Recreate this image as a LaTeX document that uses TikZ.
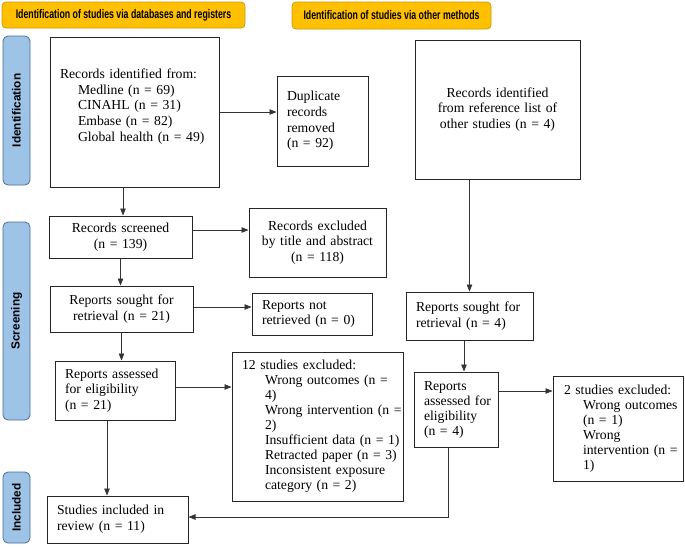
\documentclass[tikz,border=0pt]{standalone}
\usepackage{fontspec}
\setmainfont{Liberation Serif}
\newfontfamily\headfont[FakeStretch=0.7]{Liberation Sans}
\newfontfamily\phasefont{Liberation Sans}
\usetikzlibrary{arrows.meta}

\definecolor{hdrfill}{HTML}{FFC000}
\definecolor{hdrline}{HTML}{C99A12}
\definecolor{phasefill}{HTML}{9DC3E6}
\definecolor{phaseline}{HTML}{4F6F95}

\tikzset{
  hdr/.style={draw=hdrline, fill=hdrfill, line width=0.8pt, rounded corners=4pt,
    font=\headfont\bfseries\fontsize{12.5}{14}\selectfont, inner sep=0pt},
  phase/.style={draw=phaseline, fill=phasefill, line width=0.8pt, rounded corners=5pt,
    rotate=90, minimum height=27pt, inner sep=0pt,
    font=\phasefont\bfseries\fontsize{11.8}{13}\selectfont},
  box/.style={draw=black!85, line width=1pt, inner xsep=10pt, inner ysep=0pt,
    font=\fontsize{13.7}{15.7}\selectfont},
  tight/.style={font=\fontsize{13.7}{15}\selectfont},
  arr/.style={draw=black!80, line width=0.7pt, -{Triangle[length=7pt,width=5.5pt]}}
}

\begin{document}
\begin{tikzpicture}[x=1pt,y=-1pt]
    \useasboundingbox (0,0) rectangle (685,547);

    % headers
    \node[hdr, minimum width=243pt, minimum height=26pt] (hdrdb) at (123.5,15) {Identification of studies via databases and registers};
    \node[hdr, minimum width=199pt, minimum height=27pt] (hdrother) at (391.5,15.5) {Identification of studies via other methods};

    % phases
    \node[phase, minimum width=149pt] (phident) at (16.5,110.5) {Identification};
    \node[phase, minimum width=198pt] (phscreen) at (16.5,321) {Screening};
    \node[phase, minimum width=71pt] (phincl) at (16.5,507.5) {Included};

    % databases column
    \node[box, text width=149pt, minimum height=150pt, align=left] (ident) at (134.5,112)
      {\mbox{Records identified from:}\\
       \hspace*{18pt}\mbox{Medline (n = 69)}\\
       \hspace*{18pt}\mbox{CINAHL (n = 31)}\\
       \hspace*{18pt}\mbox{Embase (n = 82)}\\
       \hspace*{18pt}\mbox{Global health (n = 49)}\rule[-14pt]{0pt}{14pt}};
    \node[box, text width=71pt, minimum height=90pt, align=left] (dup) at (322.5,121)
      {Duplicate\\records\\removed\\(n = 92)};
    \node[box, text width=123pt, minimum height=42pt, align=center] (screened) at (120.5,237)
      {Records screened\\(n = 139)};
    \node[box, text width=117pt, minimum height=69pt, align=center] (excl) at (317.5,242.5)
      {Records excluded\\\mbox{by title and abstract}\\(n = 118)};
    \node[box, text width=123pt, minimum height=46pt, align=center] (sought) at (121.5,309)
      {Reports sought for\\retrieval (n = 21)};
    \node[box, text width=100pt, minimum height=42pt, align=left] (notret) at (312,314)
      {Reports not\\\mbox{retrieved (n = 0)}};
    \node[box, text width=100pt, minimum height=59pt, align=left] (assess) at (115,390.5)
      {\mbox{Reports assessed}\\for eligibility\\(n = 21)};
    \node[box, tight, text width=151pt, minimum height=149pt, align=left] (excltwelve) at (317.5,426.5)
      {\mbox{12 studies excluded:}\\
       \hspace*{23pt}\mbox{Wrong outcomes (n =}\\
       \hspace*{23pt}4)\\
       \hspace*{23pt}\mbox{Wrong intervention (n =}\\
       \hspace*{23pt}2)\\
       \hspace*{23pt}\mbox{Insufficient data (n = 1)}\\
       \hspace*{23pt}\mbox{Retracted paper (n = 3)}\\
       \hspace*{23pt}\mbox{Inconsistent exposure}\\
       \hspace*{23pt}\mbox{category (n = 2)}};
    \node[box, text width=121pt, minimum height=47pt, align=left] (incl) at (117.5,519.5)
      {\mbox{Studies included in}\\review (n = 11)};

    % other methods column
    \node[box, text width=145pt, minimum height=139pt, align=center] (other) at (497.5,109.5)
      {Records identified\\\mbox{from reference list of}\\\mbox{other studies (n = 4)}};
    \node[box, text width=107pt, minimum height=48pt, align=left] (soughtb) at (469.5,316)
      {\mbox{Reports sought for}\\\mbox{retrieval (n = 4)}};
    \node[box, tight, text width=64pt, minimum height=75pt, align=left] (assessb) at (456,409.5)
      {Reports\\\mbox{assessed for}\\eligibility\\(n = 4)};
    \node[box, tight, inner xsep=11pt, text width=108pt, minimum height=105pt, align=left] (excltwo) at (618,428.5)
      {\mbox{2 studies excluded:}\\
       \hspace*{19pt}\mbox{Wrong outcomes}\\
       \hspace*{19pt}(n = 1)\\
       \hspace*{19pt}Wrong\\
       \hspace*{19pt}\mbox{intervention (n =}\\
       \hspace*{19pt}1)};

    % arrows
    \draw[arr] (ident.east) -- (ident.east -| dup.west);
    \draw[arr] ([xshift=2.5pt]screened.north |- ident.south) -- ([xshift=2.5pt]screened.north);
    \draw[arr] ([yshift=7pt]screened.east) -- ([yshift=7pt]screened.east -| excl.west);
    \draw[arr] (screened.south) -- (screened.south |- sought.north);
    \draw[arr] ([yshift=2pt]sought.east) -- ([yshift=2pt]sought.east -| notret.west);
    \draw[arr] (sought.south) -- (sought.south |- assess.north);
    \draw[arr] ([yshift=3.5pt]assess.east) -- ([yshift=3.5pt]assess.east -| excltwelve.west);
    \draw[arr] ([xshift=-8pt]assess.south) -- ([xshift=-8pt]assess.south |- incl.north);

    \draw[arr] (soughtb.north |- other.south) -- (soughtb.north);
    \draw[arr] ([xshift=-5.5pt]soughtb.south) -- ([xshift=-5.5pt]soughtb.south |- assessb.north);
    \draw[arr] ([yshift=18.5pt]assessb.east) -- ([yshift=18.5pt]assessb.east -| excltwo.west);
    \draw[arr] ([xshift=-8pt]assessb.south) |- ([yshift=2.5pt]incl.east);

\end{tikzpicture}
\end{document}
